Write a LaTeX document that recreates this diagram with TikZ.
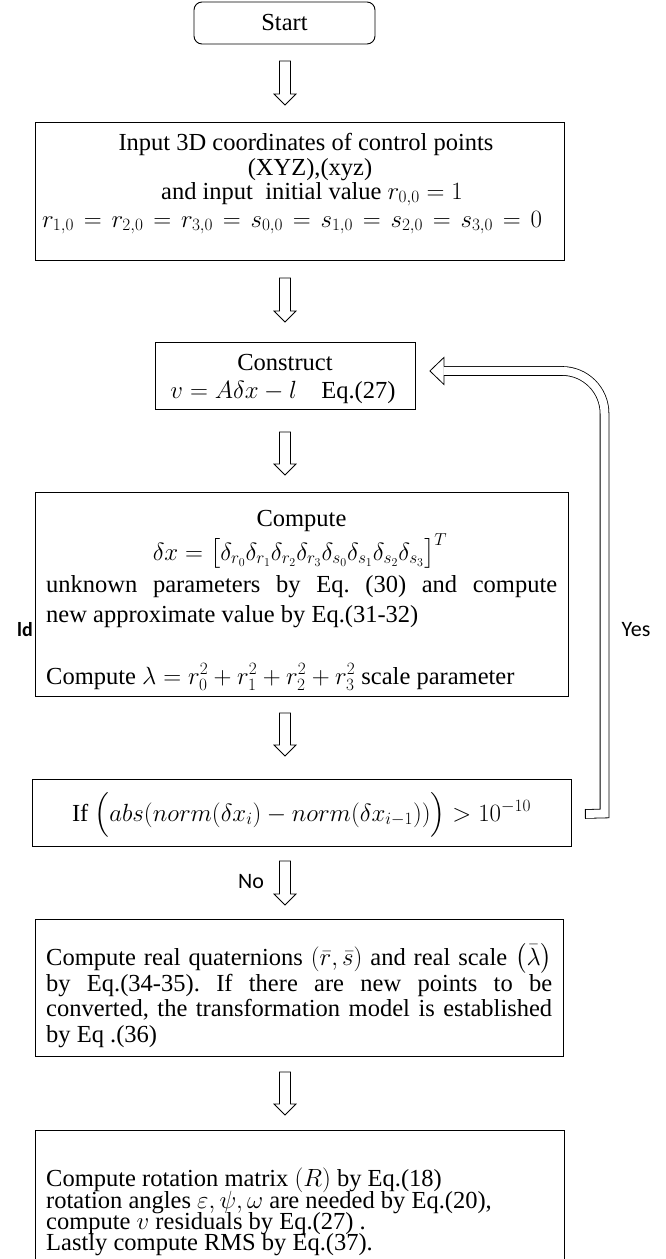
\documentclass[tikz,border=0pt]{standalone}
\usepackage{amsmath}
\usepackage{fontspec}
\setmainfont{Liberation Serif}
\newfontfamily\carl{Carlito}
\usetikzlibrary{calc}
\frenchspacing
\newcommand\hollowarrow[2]{%
  \draw[blockarr] ($(#1)+(-5.5,0)$) -- ($(#2)+(-5.5,-11)$) -- ($(#2)+(-11,-11)$) -- (#2)
    -- ($(#2)+(11,-11)$) -- ($(#2)+(5.5,-11)$) -- ($(#1)+(5.5,0)$) -- cycle;}
\begin{document}
\begin{tikzpicture}[x=1pt,y=-1pt,
  box/.style={draw, line width=0.9pt, inner sep=0pt, anchor=north west},
  txt/.style={inner sep=0pt, font=\fontsize{24.5}{28}\selectfont},
  lbl/.style={inner sep=0pt, font=\carl\fontsize{22}{26}\selectfont},
  blockarr/.style={draw, line width=0.8pt, fill=white},
  fbline/.style={line width=0.8pt, double=white, double distance=8pt},
]
\useasboundingbox (0,0) rectangle (666,1259);

% Start
\node[box, anchor=center, rounded corners=8pt, minimum width=181pt, minimum height=42pt,
      font=\fontsize{24.5}{28}\selectfont] (start) at (284.5,23) {Start};

% Input box
\node[box, minimum width=529pt, minimum height=138pt] (input) at (35,122) {};
\node[txt, anchor=base] (in1) at (306,150) {\smash[b]{Input 3D coordinates of control points}};
\node[txt, anchor=base] (in2) at (310,175) {\smash[b]{(XYZ),(xyz)}};
\node[txt, anchor=base] (in3) at (312,199) {\smash[b]{and input\ \ initial value $r_{0,0}=1$}};
\node[txt, anchor=base] (in4) at (292,227) {\makebox[500pt][s]{$r_{1,0}=r_{2,0}=r_{3,0}=s_{0,0}=s_{1,0}=s_{2,0}=s_{3,0}=0$}};

% Construct box
\node[box, minimum width=260pt, minimum height=67pt] (construct) at (155,342) {};
\node[txt, anchor=base] (c1) at (285,370) {\smash[b]{Construct}};
\node[txt, anchor=base] (c2) at (283,398) {$v=A\delta x-l$\quad Eq.(27)};

% Compute box
\node[box, minimum width=533pt, minimum height=204pt] (compute) at (35,492) {};
\node[txt, anchor=base] (k1) at (301.5,526) {Compute};
\node[txt, anchor=base] (k2) at (300,560) {\smash[b]{$\delta x=\bigl[\delta_{r_0}\delta_{r_1}\delta_{r_2}\delta_{r_3}\delta_{s_0}\delta_{s_1}\delta_{s_2}\delta_{s_3}\bigr]^T$}};
\node[txt, anchor=base west] (k3) at (46,592) {\smash[b]{\makebox[511pt][s]{unknown parameters by Eq. (30) and compute}}};
\node[txt, anchor=base west] (k4) at (46,622) {new approximate value by Eq.(31-32)};
\node[txt, anchor=base west] (k5) at (46,684) {Compute $\lambda=r_0^2+r_1^2+r_2^2+r_3^2$ scale parameter};

% If box
\node[box, minimum width=539pt, minimum height=67pt] (ifbox) at (32,779) {};
\node[txt, anchor=base] (iftxt) at (301.5,821) {If $\Bigl(abs(norm(\delta x_i)-norm(\delta x_{i-1}))\Bigr)>10^{-10}$};

% Quaternion box
\node[box, minimum width=528pt, minimum height=137pt] (quat) at (35,919) {};
\node[txt, anchor=base west] (q1) at (46,965) {\smash[b]{\makebox[506pt][s]{Compute real quaternions $(\bar r,\bar s)$ and real scale $\bigl(\bar\lambda\bigr)$}}};
\node[txt, anchor=base west] (q2) at (46,991) {\smash[b]{\makebox[506pt][s]{by Eq.(34-35). If there are new points to be}}};
\node[txt, anchor=base west] (q3) at (46,1016) {\smash[b]{\makebox[506pt][s]{converted, the transformation model is established}}};
\node[txt, anchor=base west] (q4) at (46,1042) {by Eq .(36)};

% Last box
\node[box, minimum width=529pt, minimum height=140pt] (last) at (35,1130) {};
\node[txt, anchor=base west] (l1) at (46,1186) {\smash[b]{Compute rotation matrix $(R)$ by Eq.(18)}};
\node[txt, anchor=base west] (l2) at (46,1208) {\smash{rotation angles $\varepsilon,\psi,\omega$ are needed by Eq.(20),}};
\node[txt, anchor=base west] (l3) at (46,1229) {\smash{compute $v$ residuals by Eq.(27) .}};
\node[txt, anchor=base west] (l4) at (46,1250) {\smash[t]{Lastly compute RMS by Eq.(37).}};

% labels
\node[lbl, anchor=base] (no) at (251,888) {No};
\node[lbl] (yes) at (636,630) {Yes};
\node[lbl, font=\carl\bfseries\fontsize{20}{24}\selectfont] (ld) at (25,630) {ld};

% down arrows
\coordinate (a1t) at (285,61);   \coordinate (a1h) at (285,105);
\coordinate (a2t) at (285,278);  \coordinate (a2h) at (285,322);
\coordinate (a3t) at (285,432);  \coordinate (a3h) at (285,475);
\coordinate (a4t) at (285,713);  \coordinate (a4h) at (285,756);
\coordinate (a5t) at (285,861);  \coordinate (a5h) at (285,905);
\coordinate (a6t) at (285,1072); \coordinate (a6h) at (285,1115);
\hollowarrow{a1t}{a1h}
\hollowarrow{a2t}{a2h}
\hollowarrow{a3t}{a3h}
\hollowarrow{a4t}{a4h}
\hollowarrow{a5t}{a5h}
\hollowarrow{a6t}{a6h}

% feedback (Yes) arrow
\coordinate (fbtail) at ($(ifbox.east)+(13,1)$);
\coordinate (fbtip) at ($(construct.east)+(14,-5)$);
\coordinate (fbbase) at ($(fbtip)+(14,0)$);
\coordinate (fbcorner) at (604.5,813.5);
\coordinate (fbmid) at (604.5,600);
\coordinate (fbtop) at (fbcorner |- fbtip);
\draw[fbline] (fbtail) -- (fbcorner) -- (fbmid) [rounded corners=42.5pt] -- (fbtop) -- (fbbase);
\draw[line width=0.8pt] ($(fbtail)+(0,-5.3)$) -- ($(fbtail)+(0,5.3)$);
\draw[line width=0.8pt, line join=miter] ($(fbbase)+(0,-4.5)$) -- ($(fbbase)+(0,-13.5)$) -- (fbtip)
  -- ($(fbbase)+(0,13.5)$) -- ($(fbbase)+(0,4.5)$);
\end{tikzpicture}
\end{document}
